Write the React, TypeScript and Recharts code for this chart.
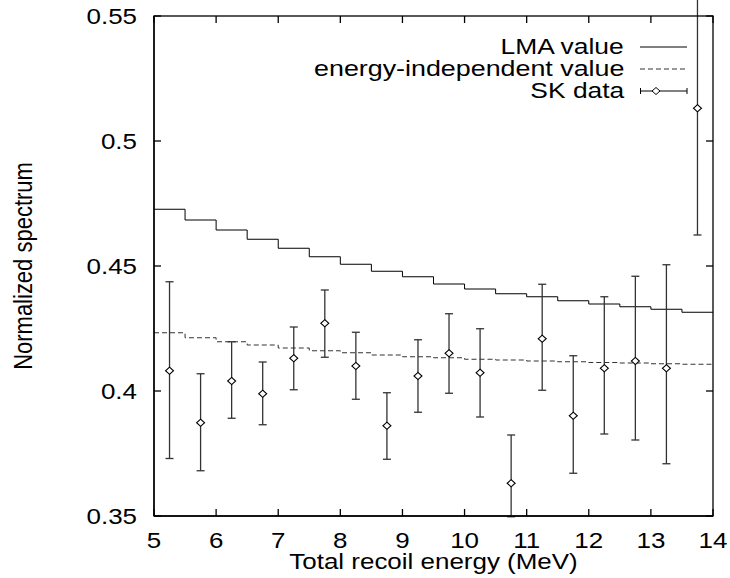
import { ComposedChart, ErrorBar, Legend, Line, Scatter, XAxis, YAxis } from "recharts";

const FONT = '"Liberation Sans", Arial, Helvetica, sans-serif';
const STRETCH = 1.18;
const TICK_LEN = 7;

const STEP_EDGES = [5, 5.5, 6, 6.5, 7, 7.5, 8, 8.5, 9, 9.5, 10, 10.5, 11, 11.5, 12, 12.5, 13, 13.5, 14];
const LMA_VALUES = [
  0.4727, 0.4684, 0.4644, 0.4607, 0.4571, 0.4537, 0.4507, 0.4479, 0.4457, 0.4428, 0.4408, 0.4389, 0.4377,
  0.4361, 0.4348, 0.4337, 0.4327, 0.4315,
];
const FLAT_VALUES = [
  0.4233, 0.4213, 0.4197, 0.4184, 0.4172, 0.4161, 0.4153, 0.4144, 0.4137, 0.4133, 0.4127, 0.4124, 0.412,
  0.4117, 0.4114, 0.4112, 0.4109, 0.4107,
];

const SK_ENERGY = [5.25, 5.75, 6.25, 6.75, 7.25, 7.75, 8.25, 8.75, 9.25, 9.75, 10.25, 10.75, 11.25, 11.75, 12.25, 12.75, 13.25, 13.75];
const SK_VALUE = [
  0.4081, 0.3873, 0.404, 0.3989, 0.4131, 0.4271, 0.41, 0.3861, 0.406, 0.4151, 0.4073, 0.3631, 0.4209, 0.3901,
  0.4091, 0.412, 0.4091, 0.5131,
];
const SK_UPPER = [
  0.4437, 0.4069, 0.4197, 0.4116, 0.4256, 0.4404, 0.4235, 0.3993, 0.4205, 0.4309, 0.4249, 0.3824, 0.4427, 0.4141,
  0.4377, 0.4459, 0.4505, 0.557,
];
const SK_LOWER = [
  0.373, 0.3681, 0.3891, 0.3865, 0.4005, 0.4135, 0.3967, 0.3727, 0.3915, 0.3991, 0.3896, 0.3497, 0.4003, 0.3671,
  0.3828, 0.3804, 0.3709, 0.4624,
];

const X_MIN = 5;
const X_MAX = 14;
const Y_MIN = 0.35;
const Y_MAX = 0.55;
const X_TICKS = [5, 6, 7, 8, 9, 10, 11, 12, 13, 14];
const Y_TICKS = [0.35, 0.4, 0.45, 0.5, 0.55];
const LEGEND_LABELS = ["LMA value", "energy-independent value", "SK data"];

// chart box
const W = 730;
const H = 578;
const M_TOP = 16;
const M_RIGHT = 17;
const Y_AXIS_W = 154;
const X_AXIS_H = 62;
const PLOT_L = Y_AXIS_W;
const PLOT_R = W - M_RIGHT;
const PLOT_T = M_TOP;
const PLOT_B = H - X_AXIS_H;

// step series: last value repeated so the final step reaches 14
const stepSeries = (values: number[]) =>
  STEP_EDGES.map((x, i) => ({ x, y: values[Math.min(i, values.length - 1)] }));

const lmaData = stepSeries(LMA_VALUES);
const flatData = stepSeries(FLAT_VALUES);
const skData = SK_ENERGY.map((x, i) => ({
  x,
  y: SK_VALUE[i],
  err: [SK_VALUE[i] - SK_LOWER[i], SK_UPPER[i] - SK_VALUE[i]],
}));

const X_MARGIN = 24;
const Y_MARGIN = 17;

function XTick(props: any) {
  const { x, y, payload } = props;
  return (
    <text
      transform={`translate(${x},${y}) scale(${STRETCH},1)`}
      textAnchor="middle"
      dy="0.36em"
      fontSize={22}
      fontFamily={FONT}
      fill="#000"
    >
      {payload.value}
    </text>
  );
}

function YTick(props: any) {
  const { x, y, payload } = props;
  return (
    <text
      transform={`translate(${x},${y}) scale(${STRETCH},1)`}
      textAnchor="end"
      dy="0.36em"
      fontSize={22}
      fontFamily={FONT}
      fill="#000"
    >
      {String(payload.value)}
    </text>
  );
}

// gnuplot-style closed border with inward ticks on all four sides
function Frame() {
  const px = (v: number) => PLOT_L + ((v - X_MIN) / (X_MAX - X_MIN)) * (PLOT_R - PLOT_L);
  const py = (v: number) => PLOT_B - ((v - Y_MIN) / (Y_MAX - Y_MIN)) * (PLOT_B - PLOT_T);
  return (
    <svg
      width={W}
      height={H}
      style={{ position: "absolute", left: 0, top: 0, pointerEvents: "none" }}
    >
      <g stroke="#000" strokeWidth={1.3} fill="none">
        <rect x={PLOT_L} y={PLOT_T} width={PLOT_R - PLOT_L} height={PLOT_B - PLOT_T} />
        {X_TICKS.map((t) => (
          <g key={`x${t}`}>
            <line x1={px(t)} y1={PLOT_B} x2={px(t)} y2={PLOT_B - TICK_LEN} />
            <line x1={px(t)} y1={PLOT_T} x2={px(t)} y2={PLOT_T + TICK_LEN} />
          </g>
        ))}
        {Y_TICKS.map((t) => (
          <g key={`y${t}`}>
            <line x1={PLOT_L} y1={py(t)} x2={PLOT_L + TICK_LEN} y2={py(t)} />
            <line x1={PLOT_R} y1={py(t)} x2={PLOT_R - TICK_LEN} y2={py(t)} />
          </g>
        ))}
      </g>
    </svg>
  );
}

function Diamond(props: any) {
  const { cx, cy } = props;
  if (cx == null || cy == null) return <g />;
  return (
    <polygon
      points={`${cx},${cy - 3.6} ${cx + 4},${cy} ${cx},${cy + 3.6} ${cx - 4},${cy}`}
      fill="#fff"
      stroke="#000"
      strokeWidth={1.1}
    />
  );
}

function LegendSample({ index }: { index: number }) {
  return (
    <svg width={48} height={22} style={{ display: "block" }}>
      {index === 0 && <line x1={0} y1={11} x2={47} y2={11} stroke="#000" strokeWidth={1} />}
      {index === 1 && (
        <line x1={0} y1={11} x2={47} y2={11} stroke="#333" strokeWidth={1} strokeDasharray="5 3" />
      )}
      {index === 2 && (
        <g stroke="#000" strokeWidth={1}>
          <line x1={0.5} y1={11} x2={47} y2={11} />
          <line x1={0.5} y1={8} x2={0.5} y2={14} />
          <line x1={47} y1={8} x2={47} y2={14} />
          <polygon points="16,7.5 20,11 16,14.5 12,11" fill="#fff" />
        </g>
      )}
    </svg>
  );
}

function KeyBox() {
  return (
    <div style={{ fontFamily: FONT, fontSize: 22, color: "#000" }}>
      {LEGEND_LABELS.map((label, i) => (
        <div key={label} style={{ display: "flex", alignItems: "center", justifyContent: "flex-end", height: 22 }}>
          <span
            style={{
              display: "inline-block",
              transform: `scaleX(${i === 1 ? 1.22 : 1.2})`,
              transformOrigin: "right center",
              whiteSpace: "nowrap",
              lineHeight: "22px",
            }}
          >
            {label}
          </span>
          <span style={{ width: 16 }} />
          <LegendSample index={i} />
        </div>
      ))}
    </div>
  );
}

export default function App() {
  return (
    <div style={{ position: "absolute", left: 0, top: 0, width: W, height: H, background: "#fff" }}>
      <ComposedChart width={W} height={H} margin={{ top: M_TOP, right: M_RIGHT, left: 0, bottom: 0 }}>
        <XAxis
          dataKey="x"
          type="number"
          domain={[X_MIN, X_MAX]}
          ticks={X_TICKS}
          allowDataOverflow
          height={X_AXIS_H}
          tickLine={false}
          tickSize={0}
          tickMargin={X_MARGIN}
          stroke="#000"
          strokeWidth={1.3}
          tick={<XTick />}
          label={{
            content: (p: any) => {
              const vb = p.viewBox;
              return (
                <text
                  transform={`translate(${vb.x + vb.width / 2},${vb.y + 53}) scale(${STRETCH},1)`}
                  textAnchor="middle"
                  fontSize={22}
                  fontFamily={FONT}
                  fill="#000"
                >
                  Total recoil energy (MeV)
                </text>
              );
            },
          }}
        />
        <YAxis
          type="number"
          domain={[Y_MIN, Y_MAX]}
          ticks={Y_TICKS}
          allowDataOverflow
          width={Y_AXIS_W}
          tickLine={false}
          tickSize={0}
          tickMargin={Y_MARGIN}
          stroke="#000"
          strokeWidth={1.3}
          tick={<YTick />}
          label={{
            content: (p: any) => {
              const vb = p.viewBox;
              return (
                <text
                  transform={`translate(${vb.x + 23},${vb.y + vb.height / 2}) scale(${STRETCH},1) rotate(-90)`}
                  textAnchor="middle"
                  dy="0.36em"
                  fontSize={22}
                  fontFamily={FONT}
                  fill="#000"
                >
                  Normalized spectrum
                </text>
              );
            },
          }}
        />
        <Legend
          layout="horizontal"
          verticalAlign="middle"
          align="center"
          wrapperStyle={{ top: 36, right: 42, left: "auto", width: "auto", height: "auto" }}
          content={() => <KeyBox />}
        />
        <Line
          data={lmaData}
          dataKey="y"
          type="stepAfter"
          stroke="#000"
          strokeWidth={1}
          dot={false}
          activeDot={false}
          isAnimationActive={false}
          legendType="none"
        />
        <Line
          data={flatData}
          dataKey="y"
          type="stepAfter"
          stroke="#333"
          strokeWidth={1}
          strokeDasharray="5 3"
          dot={false}
          activeDot={false}
          isAnimationActive={false}
          legendType="none"
        />
        <Scatter data={skData} dataKey="y" shape={<Diamond />} isAnimationActive={false} legendType="none">
          <ErrorBar dataKey="err" direction="y" width={4} stroke="#333" strokeWidth={1.3} />
        </Scatter>
      </ComposedChart>
      <Frame />
    </div>
  );
}
